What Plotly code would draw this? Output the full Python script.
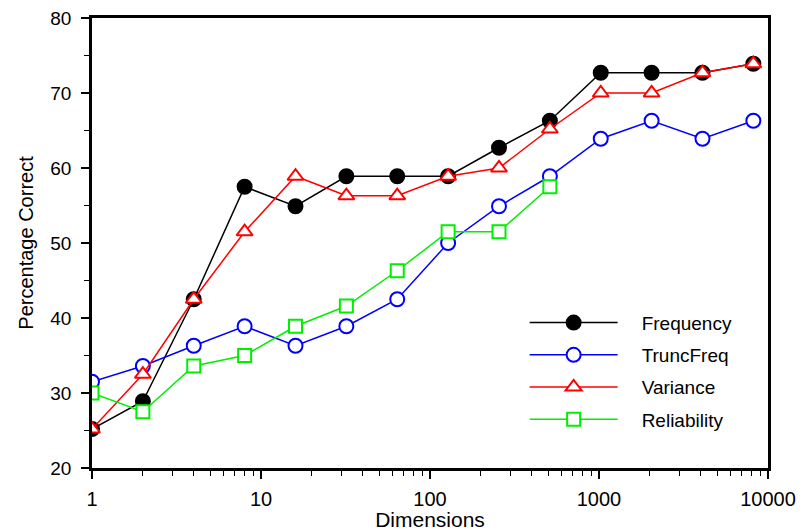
import plotly.graph_objects as go

dims = [1, 2, 4, 8, 16, 32, 64, 128, 256, 512, 1024, 2048, 4096, 8192]
frequency = [25.2, 28.9, 42.5, 57.5, 54.9, 58.9, 58.9, 58.9, 62.7, 66.3, 72.7, 72.7, 72.7, 73.9]
truncfreq = [31.5, 33.6, 36.3, 38.9, 36.3, 38.9, 42.5, 50.0, 54.9, 58.9, 63.9, 66.3, 63.9, 66.3]
variance = [25.2, 32.5, 42.5, 51.5, 58.9, 56.3, 56.3, 58.9, 60.0, 65.2, 70.0, 70.0, 72.7, 73.9]
reliability = [30.0, 27.5, 33.6, 35.0, 38.9, 41.6, 46.3, 51.5, 51.5, 57.5]

x_ticks = [1, 10, 100, 1000, 10000]
x_ticktext = ["1", "10", "100", "1000", "10000"]
y_ticks = [20, 30, 40, 50, 60, 70, 80]

fig = go.Figure()
series = [
    ("Frequency", dims, frequency, "black", "circle", "black", 14),
    ("TruncFreq", dims, truncfreq, "#0000ff", "circle", "white", 14),
    ("Variance", dims, variance, "#ff0000", "triangle-up", "white", 14),
    ("Reliability", dims[:len(reliability)], reliability, "#00ee00", "square", "white", 13),
]
for name, xs, ys, col, sym, fill, sz in series:
    fig.add_trace(go.Scatter(
        x=xs, y=ys, name="\u2003" + name, mode="lines+markers",
        legendgroup=name,
        line=dict(color=col, width=1.5),
        marker=dict(symbol=sym, size=sz, color=fill, line=dict(color=col, width=2)),
    ))

font = "Liberation Sans, Arial, sans-serif"
fig.update_layout(
    width=796, height=523,
    paper_bgcolor="white", plot_bgcolor="white",
    margin=dict(l=84, r=36, t=10, b=63),
    font=dict(family=font, size=16, color="black"),
    showlegend=True,
    legend=dict(
        x=0.64, y=0.365, xanchor="left", yanchor="top",
        bgcolor="rgba(0,0,0,0)", itemwidth=88,
        font=dict(size=19), tracegroupgap=4.5,
        itemsizing="trace",
    ),
    xaxis=dict(
        type="log", range=[0, 4], automargin=False,
        tickvals=x_ticks, ticktext=x_ticktext, tickfont=dict(size=20),
        ticks="outside", ticklen=8, tickwidth=1.5, tickcolor="black",
        ticklabelstandoff=3, ticklabeloverflow="allow",
        minor=dict(ticks="outside", ticklen=5, tickwidth=1, tickcolor="black", dtick="D1", showgrid=False),
        showline=True, linewidth=2.5, linecolor="black", mirror=True,
        showgrid=False, zeroline=False,
        title=dict(text="Dimensions", font=dict(size=21), standoff=1),
    ),
    yaxis=dict(
        range=[20, 80], tickvals=y_ticks, automargin=False, tickfont=dict(size=19),
        ticks="outside", ticklen=8, tickwidth=1.5, tickcolor="black",
        ticklabelstandoff=6, ticklabeloverflow="allow",
        minor=dict(ticks="outside", ticklen=5, tickwidth=1, tickcolor="black", dtick=5, showgrid=False),
        showline=True, linewidth=2.5, linecolor="black", mirror=True,
        showgrid=False, zeroline=False,
        title=dict(text="Percentage Correct", font=dict(size=20), standoff=12),
    ),
)

fig.write_html("out.html")
